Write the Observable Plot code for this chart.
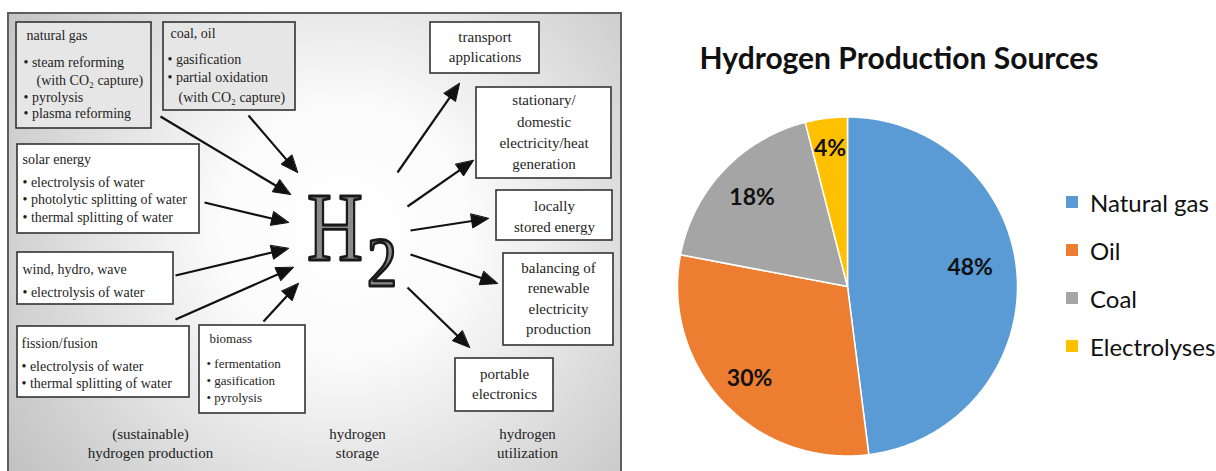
<!DOCTYPE html>
<html>
<head>
<meta charset="utf-8">
<script src="https://cdn.jsdelivr.net/npm/d3@7"></script>
<script src="https://cdn.jsdelivr.net/npm/@observablehq/plot@0.6"></script>
<style>
  html, body { margin: 0; padding: 0; background: #fff; }
  #wrap { position: relative; width: 1216px; height: 471px; overflow: hidden; }
  #diagram { position: absolute; left: 0; top: 0; }
  #pie { position: absolute; left: 630px; top: 0; }
  #title { position: absolute; left: 630px; width: 538px; top: 37px; height: 40px; line-height: 40px;
           text-align: center; font-family: Lato, sans-serif; font-weight: 700; font-size: 30px; color: #111; margin: 0; }
  #legend { position: absolute; left: 1066px; top: 178px; }
  #legend .lg-swatches { font-family: Lato, sans-serif !important; font-size: 24px !important; color: #111; margin: 0 !important; }
  #legend .lg-swatch { padding-bottom: 0 !important; height: 48px; }
</style>
</head>
<body>
<div id="wrap">
  <div id="diagram"></div>
  <div id="pie"></div>
  <div id="title"></div>
  <div id="legend"></div>
</div>
<script>
// ---------------- pie chart data ----------------
const chartTitle = "Hydrogen Production Sources";
const categories = ["Natural gas", "Oil", "Coal", "Electrolyses"];
const shares = [48, 30, 18, 4];
const sliceLabels = ["48%", "30%", "18%", "4%"];
const palette = ["#5B9BD5", "#ED7D31", "#A5A5A5", "#FFC000"];

// ---------------- diagram text ----------------
const productionBoxes = [
  ["natural gas", "• steam reforming", "(with CO₂ capture)", "• pyrolysis", "• plasma reforming"],
  ["coal, oil", "• gasification", "• partial oxidation", "(with CO₂ capture)"],
  ["solar energy", "• electrolysis of water", "• photolytic splitting of water", "• thermal splitting of water"],
  ["wind, hydro, wave", "• electrolysis of water"],
  ["fission/fusion", "• electrolysis of water", "• thermal splitting of water"],
  ["biomass", "• fermentation", "• gasification", "• pyrolysis"]
];
const utilizationBoxes = [
  ["transport", "applications"],
  ["stationary/", "domestic", "electricity/heat", "generation"],
  ["locally", "stored energy"],
  ["balancing of", "renewable", "electricity", "production"],
  ["portable", "electronics"]
];
const stageLabels = ["(sustainable)\nhydrogen production", "hydrogen\nstorage", "hydrogen\nutilization"];
const symbolParts = ["H", "2"];

// ---------------- layout (pixels / angles) ----------------
const frameLayout = [{x1: 8, y1: 13, x2: 621, y2: 490}];
const productionLayout = [
  {x1: 16, y1: 22, x2: 151, y2: 128, fill: "#e6e6e6", tx: [26, 23, 36, 23, 23], ty: [35, 62, 80, 97, 113], size: 14},
  {x1: 163, y1: 22, x2: 295, y2: 110, fill: "#e6e6e6", tx: [170, 167, 167, 178], ty: [33, 59, 77, 97], size: 14},
  {x1: 17, y1: 144, x2: 199, y2: 233, fill: "#ffffff", tx: [22, 22, 22, 22], ty: [159, 182, 199, 217], size: 14},
  {x1: 17, y1: 252, x2: 173, y2: 304, fill: "#ffffff", tx: [22, 22], ty: [269, 292], size: 14},
  {x1: 17, y1: 326, x2: 189, y2: 397, fill: "#ffffff", tx: [21, 21, 21], ty: [343, 366, 383], size: 14},
  {x1: 199, y1: 325, x2: 305, y2: 413, fill: "#ffffff", tx: [209, 206, 206, 206], ty: [338, 363, 380, 397], size: 13}
];
const utilizationLayout = [
  {x1: 430, y1: 22, x2: 539, y2: 73, ty: [37, 57]},
  {x1: 476, y1: 87, x2: 611, y2: 178, ty: [100, 122, 143, 164]},
  {x1: 496, y1: 190, x2: 612, y2: 240, ty: [206, 227]},
  {x1: 503, y1: 253, x2: 613, y2: 345, ty: [268, 288, 309, 329]},
  {x1: 455, y1: 358, x2: 553, y2: 411, ty: [374, 394]}
];
const stageLayout = [{x: 150, y: 442}, {x: 357, y: 442}, {x: 527, y: 442}];
const arrowLayout = [
  [160, 116, 290, 194], [248, 115, 297, 172], [204, 202, 288, 222], [175, 275, 288, 248],
  [175, 319, 293, 267], [263, 321, 298, 283],
  [397, 172, 459, 83], [407, 206, 473, 160], [410, 230, 488, 218], [410, 254, 497, 283], [407, 287, 469, 347]
];
const symbolLayout = [
  {x: 306.5, y: 259, size: 98, sx: 0.79},
  {x: 366.5, y: 285, size: 70, sx: 0.86}
];
const labelRadius = [0.73, 0.79, 0.77, 0.82];
const labelAngleShift = [-5, 0, 0, 0];

// ---------------- build diagram rows ----------------
const boxRows = [
  ...productionLayout.map(b => ({...b})),
  ...utilizationLayout.map(b => ({...b, fill: "#ffffff"}))
];
const leftText = [];
productionBoxes.forEach((lines, i) => {
  const L = productionLayout[i];
  lines.forEach((t, k) => leftText.push({t, x: L.tx[k], y: L.ty[k], size: L.size}));
});
const centerText = [];
utilizationBoxes.forEach((lines, i) => {
  const L = utilizationLayout[i];
  lines.forEach((t, k) => centerText.push({t, x: (L.x1 + L.x2) / 2, y: L.ty[k]}));
});
const stageRows = stageLabels.map((t, i) => ({t, ...stageLayout[i]}));
const symbolRows = symbolParts.map((t, i) => ({t, ...symbolLayout[i]}));

const HEAD_L = 17, HEAD_W = 7;
const shafts = [], heads = [];
arrowLayout.forEach(([x1, y1, x2, y2], i) => {
  const dx = x2 - x1, dy = y2 - y1, len = Math.hypot(dx, dy);
  const ux = dx / len, uy = dy / len, nx = -uy, ny = ux;
  const bx = x2 - HEAD_L * ux, by = y2 - HEAD_L * uy;
  shafts.push({x1, y1, x2: bx + 2 * ux, y2: by + 2 * uy});
  heads.push({id: i, x: x2, y: y2});
  heads.push({id: i, x: bx + HEAD_W * nx, y: by + HEAD_W * ny});
  heads.push({id: i, x: bx - HEAD_W * nx, y: by - HEAD_W * ny});
});

const serif = "Liberation Serif, Times New Roman, serif";
const diagram = Plot.plot({
  width: 630, height: 471, margin: 0,
  x: {domain: [0, 630], range: [0, 630], axis: null},
  y: {domain: [0, 471], range: [0, 471], axis: null},
  style: {background: "transparent"},
  marks: [
    Plot.rect(frameLayout, {x1: "x1", x2: "x2", y1: "y1", y2: "y2", fill: "url(#bgGrad)", stroke: "#5e5e5e", strokeWidth: 2}),
    Plot.rect(boxRows, {x1: "x1", x2: "x2", y1: "y1", y2: "y2", fill: d => d.fill, stroke: "#333", strokeWidth: 1.6}),
    Plot.text(leftText, {x: "x", y: "y", text: "t", fontSize: "size", textAnchor: "start", fontFamily: serif, fill: "#1e1e1e"}),
    Plot.text(centerText, {x: "x", y: "y", text: "t", fontSize: 15, textAnchor: "middle", fontFamily: serif, fill: "#1e1e1e"}),
    Plot.text(stageRows, {x: "x", y: "y", text: "t", fontSize: 15, lineHeight: 1.3, textAnchor: "middle", fontFamily: serif, fill: "#1e1e1e"}),
    Plot.link(shafts, {x1: "x1", y1: "y1", x2: "x2", y2: "y2", stroke: "#111", strokeWidth: 2.2}),
    Plot.line(heads, {x: "x", y: "y", z: "id", fill: "#111", stroke: "#111", strokeWidth: 1, curve: "linear-closed"}),
    Plot.text(symbolRows, {
      x: "x", y: "y", text: "t", fontSize: "size", lineAnchor: "bottom", textAnchor: "start",
      fontFamily: serif, fill: "#8a8a8a", stroke: "#1a1a1a", strokeWidth: 2.8,
      render(index, scales, values, dims, ctx, next) {
        const g = next(index, scales, values, dims, ctx);
        d3.select(g).selectAll("text").each(function(d, j) {
          const t = d3.select(this);
          const r = symbolRows[index[j]];
          const tr = t.attr("transform") || "";
          t.attr("transform", `${tr} scale(${r.sx},1)`).attr("paint-order", "normal");
        });
        return g;
      }
    })
  ]
});
d3.select(diagram).insert("defs", ":first-child").html(
  `<radialGradient id="bgGrad" gradientUnits="userSpaceOnUse" cx="345" cy="230" r="420">
     <stop offset="0" stop-color="#ffffff"/>
     <stop offset="0.3" stop-color="#fbfbfb"/>
     <stop offset="1" stop-color="#c0c0c0"/>
   </radialGradient>`
);
document.getElementById("diagram").appendChild(diagram);

// ---------------- pie chart ----------------
const total = d3.sum(shares);
let acc = 0;
const slicePts = [], labelPts = [];
categories.forEach((c, i) => {
  const a0 = acc / total * 2 * Math.PI;
  acc += shares[i];
  const a1 = acc / total * 2 * Math.PI;
  slicePts.push({cat: c, x: 0, y: 0});
  const n = Math.max(2, Math.ceil((a1 - a0) / (Math.PI / 360)));
  for (let k = 0; k <= n; k++) {
    const a = a0 + (a1 - a0) * k / n;
    slicePts.push({cat: c, x: Math.sin(a), y: Math.cos(a)});
  }
  const am = (a0 + a1) / 2 + labelAngleShift[i] * Math.PI / 180;
  labelPts.push({text: sliceLabels[i], x: labelRadius[i] * Math.sin(am), y: labelRadius[i] * Math.cos(am)});
});

const pie = Plot.plot({
  width: 586, height: 471, margin: 0,
  x: {domain: [-1, 1], range: [47, 387], axis: null},
  y: {domain: [-1, 1], range: [455.5, 116.5], axis: null},
  color: {domain: categories, range: palette},
  marks: [
    Plot.line(slicePts, {x: "x", y: "y", z: "cat", fill: "cat", stroke: "white", strokeWidth: 1.5, curve: "linear-closed"}),
    Plot.text(labelPts, {x: "x", y: "y", text: "text", fontSize: 23, fontWeight: 700, fontFamily: "Lato, sans-serif", fill: "#111"})
  ]
});
document.getElementById("pie").appendChild(pie);

document.getElementById("title").textContent = chartTitle;

const legend = Plot.legend({
  color: {domain: categories, range: palette},
  legend: "swatches", columns: 1, swatchSize: 12, className: "lg"
});
document.getElementById("legend").appendChild(legend);
</script>
</body>
</html>
